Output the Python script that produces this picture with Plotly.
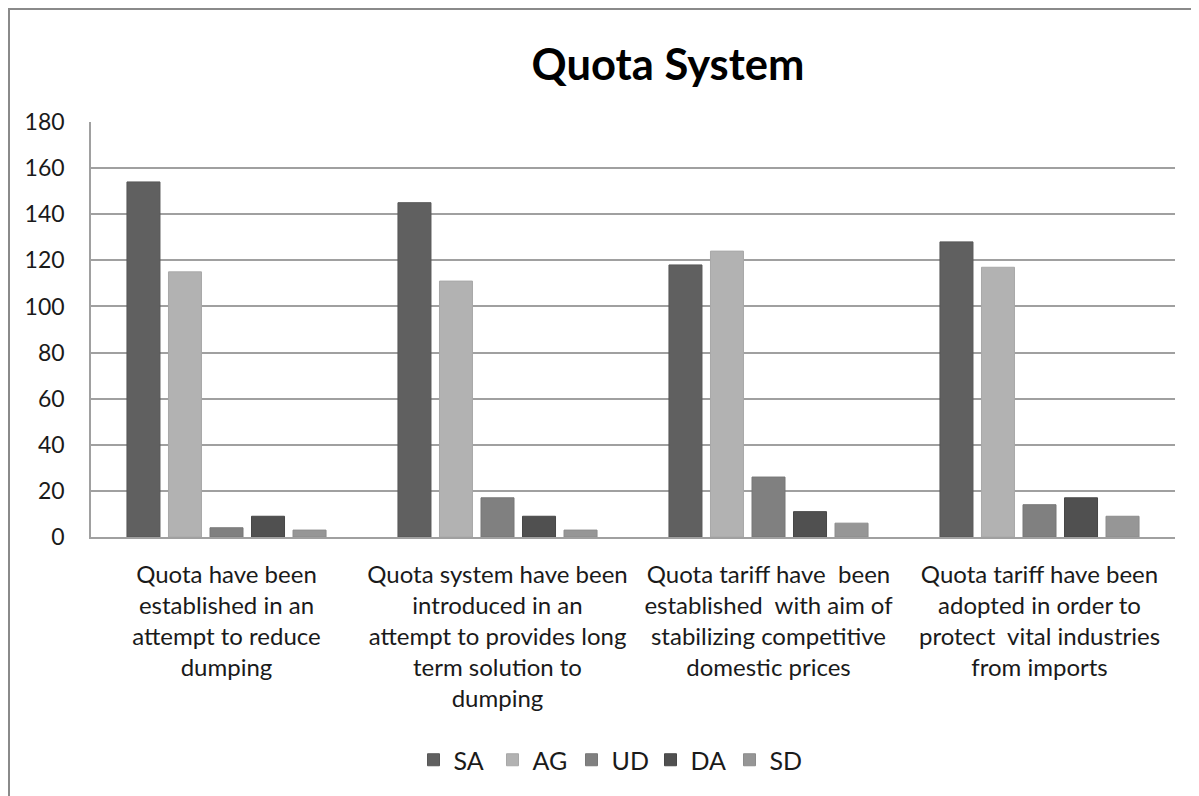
import plotly.graph_objects as go

categories = [
    "Quota have been<br>established in an<br>attempt to reduce<br>dumping",
    "Quota system have been<br>introduced in an<br>attempt to provides long<br>term solution to<br>dumping",
    "Quota tariff have  been<br>established  with aim of<br>stabilizing competitive<br>domestic prices",
    "Quota tariff have been<br>adopted in order to<br>protect  vital industries<br>from imports",
]
series_names = ["SA", "AG", "UD", "DA", "SD"]
SA = [154, 145, 118, 128]
AG = [115, 111, 124, 117]
UD = [4, 17, 26, 14]
DA = [9, 9, 11, 17]
SD = [3, 3, 6, 9]
values = [SA, AG, UD, DA, SD]
y_ticks = [0, 20, 40, 60, 80, 100, 120, 140, 160, 180]

colors = ["#606060", "#b2b2b2", "#808080", "#505050", "#969696"]
edges = ["#575757", "#a8a8a8", "#777777", "#474747", "#8c8c8c"]

FONT = "Lato, Calibri, Carlito, sans-serif"

fig = go.Figure()
for name, vals, c, e in zip(series_names, values, colors, edges):
    fig.add_trace(go.Bar(
        name=name, x=categories, y=vals,
        marker=dict(color=c, line=dict(color=e, width=1)),
    ))

# page has an 8px body margin; figure coordinates are offset by 8
OFF = 8
W, H = 1199 - OFF, 796 - OFF
L, T = 91 - OFF, 122 - OFF
R = W - (1175 - OFF)
B = H - (537 - OFF)
pw = W - L - R
ph = H - T - B

def px_x(x):
    return (x - OFF - L) / pw

def px_y(y):
    return (H - B - (y - OFF)) / ph

fig.update_layout(
    width=W, height=H,
    margin=dict(l=L, r=R, t=T, b=B, autoexpand=False),
    paper_bgcolor="white", plot_bgcolor="white",
    barmode="group", bargap=0.234, bargroupgap=0.205,
    font=dict(family=FONT, color="#1a1a1a", size=23),
    title=dict(text="<b>Quota System</b>", x=px_x(668), xanchor="center",
               xref="paper", y=1 - (65 - OFF) / H, yanchor="middle",
               font=dict(family=FONT, size=43.5, color="#000000")),
    showlegend=True,
    legend=dict(orientation="h", x=px_x(611), xanchor="center",
                y=px_y(760), yanchor="middle",
                font=dict(family=FONT, size=25, color="#1a1a1a"),
                traceorder="normal", itemwidth=30,
                entrywidth=34, entrywidthmode="pixels"),
    xaxis=dict(type="category", showgrid=False, showline=True,
               linecolor="#a0a0a0", linewidth=1.5, ticks="",
               tickfont=dict(family=FONT, size=24, color="#1a1a1a"),
               ticklabelstandoff=15, tickangle=0),
    yaxis=dict(range=[0, 180], tickvals=y_ticks, showgrid=True,
               gridcolor="#a0a0a0", gridwidth=1.5, showline=True,
               linecolor="#a0a0a0", linewidth=1.5, ticks="",
               zeroline=False,
               tickfont=dict(family=FONT, size=23, color="#1a1a1a"),
               ticklabelstandoff=20),
    shapes=[dict(type="rect", xref="paper", yref="paper",
                 x0=px_x(OFF + 1), x1=px_x(1400), y0=px_y(1000), y1=px_y(OFF + 1),
                 line=dict(color="#8a8a8a", width=2),
                 fillcolor="rgba(0,0,0,0)", layer="below")],
)

fig.write_html("out.html")
